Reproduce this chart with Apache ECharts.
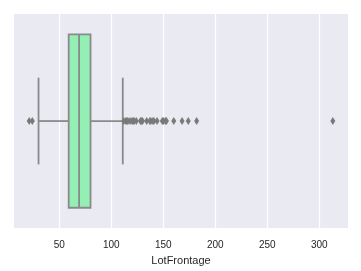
<!DOCTYPE html>
<html><head><meta charset="utf-8">
<script src="https://cdn.jsdelivr.net/npm/echarts@6/dist/echarts.min.js"></script>
<style>html,body{margin:0;padding:0;background:#fff}#c{width:361px;height:271px}</style>
</head><body><div id="c"></div>
<script>
const categories = ['LotFrontage'];
// [lower whisker, Q1, median, Q3, upper whisker]
const boxStats = [30, 59, 69, 80, 111];
const outliers = [21, 24, 112, 114, 115, 116, 118, 120, 121, 122, 124, 128, 129, 130, 134, 137, 138, 140, 141, 144, 149, 150, 152, 153, 160, 168, 174, 182, 313];
const tickValues = [50, 100, 150, 200, 250, 300];
const axisMin = 6.4, axisMax = 327.6;

const lineColor = '#8a8a8a';
const fillColor = '#93EFB3';
const chart = echarts.init(document.getElementById('c'), null, {renderer: 'canvas'});
const font = '"Liberation Sans", Arial, sans-serif';

function renderBox(params, api) {
  const cat = 0;
  const pts = [0, 1, 2, 3, 4].map(i => api.coord([api.value(i), cat]));
  const yc = pts[0][1];
  const band = api.size([0, 1])[1];
  const hb = band * 0.405;
  const hc = hb * 0.5;
  const ls = {stroke: lineColor, lineWidth: 1.8, fill: null};
  const x = pts.map(p => p[0]);
  return {
    type: 'group',
    children: [
      {type: 'line', shape: {x1: x[0], y1: yc, x2: x[1], y2: yc}, style: ls},
      {type: 'line', shape: {x1: x[3], y1: yc, x2: x[4], y2: yc}, style: ls},
      {type: 'line', shape: {x1: x[0], y1: yc - hc, x2: x[0], y2: yc + hc}, style: ls},
      {type: 'line', shape: {x1: x[4], y1: yc - hc, x2: x[4], y2: yc + hc}, style: ls},
      {type: 'rect', shape: {x: x[1], y: yc - hb, width: x[3] - x[1], height: 2 * hb},
        style: {fill: fillColor, stroke: lineColor, lineWidth: 1.8}},
      {type: 'line', shape: {x1: x[2], y1: yc - hb, x2: x[2], y2: yc + hb}, style: ls}
    ]
  };
}

chart.setOption({
  animation: false,
  grid: {left: 14, right: 13, top: 14, bottom: 41, show: true, backgroundColor: '#EAEAF2', borderWidth: 0},
  xAxis: {
    type: 'value', min: axisMin, max: axisMax,
    name: categories[0], nameLocation: 'middle', nameGap: 24,
    nameTextStyle: {fontFamily: font, fontSize: 11, color: '#262626'},
    axisLine: {show: false}, axisTick: {show: false, customValues: tickValues},
    axisLabel: {customValues: tickValues, fontFamily: font, fontSize: 10, color: '#262626', margin: 12},
    splitLine: {show: true, lineStyle: {color: '#ffffff', width: 1.2}}
  },
  yAxis: {
    type: 'category', data: categories, show: false,
    axisLine: {show: false}, axisTick: {show: false}, splitLine: {show: false}
  },
  series: [
    {
      type: 'custom', renderItem: renderBox,
      encode: {x: [0, 1, 2, 3, 4]},
      data: [boxStats]
    },
    {
      type: 'scatter',
      symbol: 'path://M0,-1L0.55,0L0,1L-0.55,0Z',
      symbolSize: [5, 8],
      itemStyle: {color: '#7a7a7a', opacity: 1},
      data: outliers.map(v => [v, 0])
    }
  ]
});
</script></body></html>
